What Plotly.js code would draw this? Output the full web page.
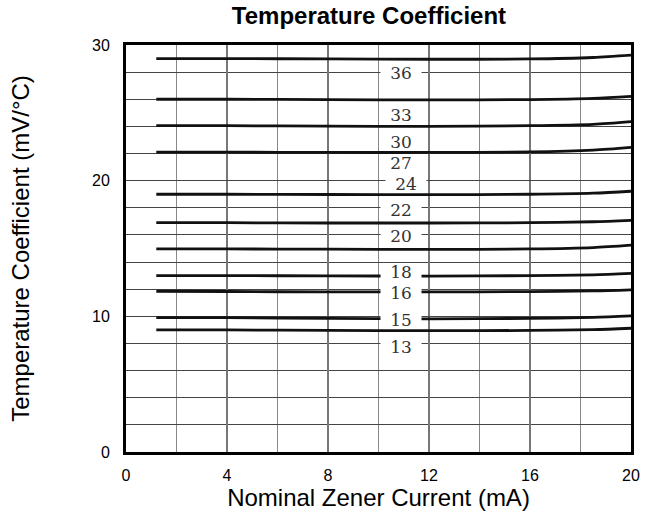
<!DOCTYPE html>
<html>
<head>
<meta charset="utf-8">
<script src="https://cdn.plot.ly/plotly-3.0.1.min.js"></script>
<style>html,body{margin:0;padding:0;background:#fff;}#chart{width:657px;height:518px;}</style>
</head>
<body>
<div id="chart"></div>
<script>
// Nominal Zener current (mA) sample points along each curve
const current = [1.2, 4, 8, 12, 16, 18.5, 20];

// Temperature coefficient (mV/°C) for each Zener voltage curve
const tc36 = [29.0, 29.0, 28.97, 28.95, 28.97, 29.08, 29.25];
const tc33 = [26.0, 26.0, 25.97, 25.95, 25.98, 26.07, 26.22];
const tc30 = [24.05, 24.05, 24.02, 24.0, 24.05, 24.15, 24.35];
const tc27 = [22.1, 22.1, 22.08, 22.08, 22.12, 22.25, 22.45];
const tc24 = [19.0, 19.0, 18.98, 18.97, 19.0, 19.08, 19.22];
const tc22 = [16.9, 16.9, 16.88, 16.88, 16.9, 16.97, 17.08];
const tc20 = [14.97, 14.97, 14.95, 14.93, 14.97, 15.07, 15.25];
const tc18 = [13.0, 13.0, 12.98, 12.97, 13.0, 13.06, 13.17];
const tc16 = [11.85, 11.83, 11.8, 11.8, 11.82, 11.87, 11.95];
const tc15 = [9.9, 9.9, 9.85, 9.82, 9.85, 9.92, 10.03];
const tc13 = [9.0, 9.0, 8.96, 8.94, 8.96, 9.02, 9.12];

const curves = [tc36, tc33, tc30, tc27, tc24, tc22, tc20, tc18, tc16, tc15, tc13];

// Curve labels (Zener voltage) and their positions
const labelText = ["36", "33", "30", "27", "24", "22", "20", "18", "16", "15", "13"];
const labelX = [10.9, 10.9, 10.9, 10.9, 11.1, 10.9, 10.9, 10.9, 10.9, 10.9, 10.9];
const labelY = [27.9, 24.85, 22.85, 21.3, 19.72, 17.85, 15.95, 13.28, 11.75, 9.75, 7.72];

const xTicks = [0, 4, 8, 12, 16, 20];
const yTicks = [0, 10, 20, 30];

const traces = curves.map(v => ({
  x: current, y: v, type: 'scatter', mode: 'lines',
  line: {color: '#111', width: 2.8, shape: 'spline', smoothing: 0.8},
  hoverinfo: 'skip', showlegend: false
}));

const annotations = labelText.map((t, i) => ({
  x: labelX[i], y: labelY[i], xref: 'x', yref: 'y', text: t, showarrow: false,
  font: {family: 'DejaVu Serif, Liberation Serif, serif', size: 17, color: '#333'},
  bgcolor: '#fff', borderpad: 0, width: 40, height: 14, align: 'center', valign: 'middle',
  xanchor: 'center', yanchor: 'middle'
}));

const layout = {
  width: 657, height: 518,
  margin: {l: 126, r: 26, t: 45, b: 66},
  paper_bgcolor: '#fff', plot_bgcolor: '#fff',
  showlegend: false,
  title: {text: '<b>Temperature Coefficient</b>', x: 0.5616, xanchor: 'center', y: 0.969, yanchor: 'middle',
          font: {family: 'Liberation Sans, Arial, sans-serif', size: 24, color: '#000'}},
  font: {family: 'Liberation Sans, Arial, sans-serif', color: '#000'},
  xaxis: {
    range: [0, 20], tickvals: xTicks, ticktext: xTicks.map(String),
    showgrid: true, gridcolor: '#777', gridwidth: 1.2,
    minor: {dtick: 2, tick0: 0, showgrid: true, gridcolor: '#888', gridwidth: 1.2},
    zeroline: false, showline: true, mirror: true, linecolor: '#000', linewidth: 3,
    ticks: '', ticklabelstandoff: 7,
    tickfont: {size: 16, color: '#000'},
    title: {text: 'Nominal Zener Current (mA)', standoff: 6, font: {size: 24, color: '#000'}},
    fixedrange: true
  },
  yaxis: {
    range: [0, 30], tickvals: yTicks, ticktext: yTicks.map(String),
    showgrid: true, gridcolor: '#444', gridwidth: 1,
    minor: {dtick: 2, tick0: 0, showgrid: true, gridcolor: '#444', gridwidth: 1},
    zeroline: false, showline: true, mirror: true, linecolor: '#000', linewidth: 3,
    ticks: '', ticklabelstandoff: 10,
    tickfont: {size: 16, color: '#000'},
    title: {text: 'Temperature Coefficient (mV/°C)', standoff: 56, font: {size: 24, color: '#000'}},
    fixedrange: true
  },
  annotations: annotations
};

Plotly.newPlot('chart', traces, layout, {displayModeBar: false, staticPlot: true});
</script>
</body>
</html>
